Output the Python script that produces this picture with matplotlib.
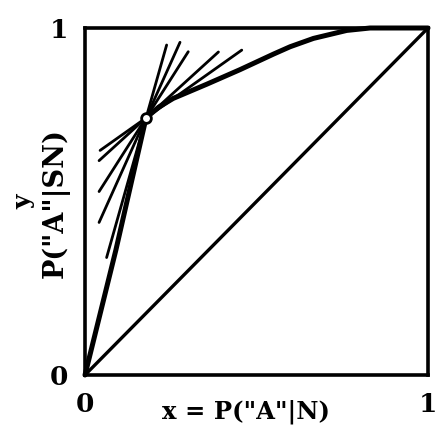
import matplotlib
matplotlib.use("Agg")
import matplotlib.pyplot as plt
import numpy as np

# ROC curve (x = P("A"|N), y = P("A"|SN))
roc_x = [0.0, 0.09, 0.178, 0.215, 0.257, 0.355, 0.452, 0.55, 0.598, 0.666, 0.763, 0.831, 1.0]
roc_y = [0.0, 0.36, 0.741, 0.772, 0.797, 0.838, 0.880, 0.925, 0.946, 0.970, 0.993, 1.0, 1.0]

# operating point
pt_x = 0.178
pt_y = 0.741

# tangent lines through the operating point: slopes and x-extents
tan_slopes = [3.5, 2.2, 1.55, 0.9, 0.7]
tan_x_lo = [0.063, 0.041, 0.041, 0.041, 0.044]
tan_x_hi = [0.238, 0.277, 0.301, 0.389, 0.457]

# chance diagonal
diag_x = [0.0, 1.0]
diag_y = [0.0, 1.0]

tick_vals = [0, 1]
tick_labels = ["0", "1"]

fig = plt.figure(figsize=(4.37, 4.32), dpi=100)
ax = fig.add_axes([85/437, 57/432, 343/437, 347/432])
ax.set_xlim(0, 1)
ax.set_ylim(0, 1)

serif = ["DejaVu Serif"]

ax.plot(diag_x, diag_y, color="black", lw=2.4, solid_capstyle="butt")
for s, lo, hi in zip(tan_slopes, tan_x_lo, tan_x_hi):
    xs = np.array([lo, hi])
    ys = pt_y + s * (xs - pt_x)
    ax.plot(xs, ys, color="black", lw=2.0, solid_capstyle="round")
ax.plot(roc_x, roc_y, color="black", lw=3.6, solid_capstyle="round",
        solid_joinstyle="round", clip_on=False)
ax.plot([pt_x], [pt_y], marker="o", ms=7, mfc="white", mec="black", mew=2.0, zorder=5)

for sp in ax.spines.values():
    sp.set_linewidth(2.6)

ax.set_xticks(tick_vals)
ax.set_xticklabels(tick_labels, fontsize=19, fontweight="bold", family=serif)
ax.set_yticks(tick_vals)
ax.set_yticklabels(tick_labels, fontsize=19, fontweight="bold", family=serif)
ax.tick_params(length=0, pad=12)

ax.text(0.47, -0.105, 'x = P("A"|N)', transform=ax.transAxes, ha="center", va="center",
        fontsize=17.5, fontweight="bold", family=serif)
ax.text(-0.18, 0.50, "y", transform=ax.transAxes, ha="center", va="center",
        rotation=90, fontsize=18, fontweight="bold", family=serif)
ax.text(-0.085, 0.497, 'P("A"|SN)', transform=ax.transAxes, ha="center", va="center",
        rotation=90, fontsize=19.5, fontweight="bold", family=serif)

fig.savefig("out.png", dpi=100)
